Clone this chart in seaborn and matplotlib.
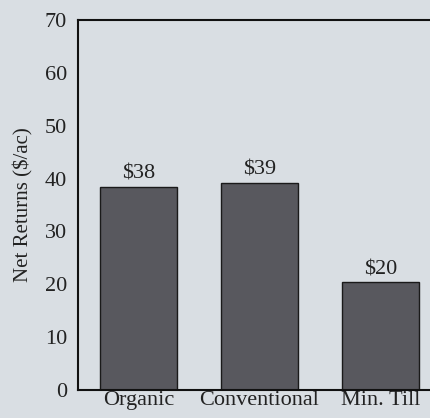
import matplotlib
matplotlib.use("Agg")
import matplotlib.pyplot as plt
import seaborn as sns
import pandas as pd

categories = ["Organic", "Conventional", "Min. Till"]
net_returns = [38.5, 39.2, 20.4]
bar_labels = ["$38", "$39", "$20"]
yticks = [0, 10, 20, 30, 40, 50, 60, 70]

df = pd.DataFrame({"System": categories, "Net": net_returns})

sns.set_style("white")
plt.rcParams["font.family"] = ["Liberation Serif", "DejaVu Serif"]

bg = "#d9dee3"
fig = plt.figure(figsize=(4.31, 4.18), dpi=100, facecolor=bg)
ax = fig.add_axes([0.181, 0.067, 0.819, 0.885])
ax.set_facecolor(bg)

sns.barplot(data=df, x="System", y="Net", color="#58585e", width=0.64,
            saturation=1, ax=ax, edgecolor="#1a1a1a", linewidth=1.0)

for i, (v, lab) in enumerate(zip(net_returns, bar_labels)):
    ax.text(i, v + 0.6, lab, ha="center", va="bottom", fontsize=16, color="#222222")

ax.set_xlim(-0.5, 2.42)
ax.set_ylim(0, 70)
ax.set_yticks(yticks)
ax.tick_params(axis="both", length=0, labelsize=16, colors="#222222")
ax.tick_params(axis="y", pad=8)
ax.tick_params(axis="x", pad=1)
ax.set_xlabel("")
ax.set_ylabel("Net Returns ($/ac)", fontsize=15, color="#222222", labelpad=8)
for s in ["left", "top", "bottom"]:
    ax.spines[s].set_visible(True)
    ax.spines[s].set_color("#111111")
    ax.spines[s].set_linewidth(1.5)
ax.spines["right"].set_visible(False)

fig.savefig("out.png", dpi=100, facecolor=bg)
